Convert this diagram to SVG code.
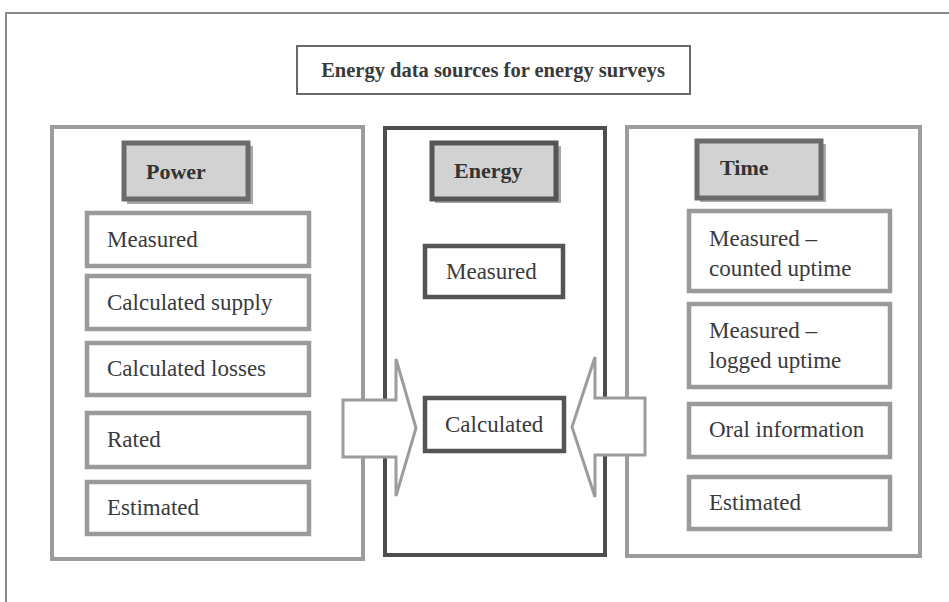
<svg xmlns="http://www.w3.org/2000/svg" width="949" height="602" viewBox="0 0 949 602">
<style>
text{font-family:"Liberation Serif","Times New Roman",serif;fill:#3a3a3a}
.t{font-size:23px}
.h{font-size:22px;font-weight:bold;fill:#333}
.ti{font-size:20.5px;font-weight:bold;fill:#3a3a3a}
.panel{fill:#fff;stroke:#9c9c9c;stroke-width:4}
.cpanel{fill:#fff;stroke:#4e4e4e;stroke-width:4}
.item{fill:#fff;stroke:#9a9a9a;stroke-width:4.5}
.citem{fill:#fff;stroke:#555;stroke-width:4.5}
.hdr{fill:#d2d2d2;stroke:#6a6a6a;stroke-width:5}
.shadow{fill:#a8a8a8}
.arrow{fill:#fff;stroke:#9c9c9c;stroke-width:3;stroke-linejoin:miter}
</style>
<rect width="949" height="602" fill="#fff"/>
<g id="frame">
<path d="M6,602 V13 H949" fill="none" stroke="#8a8a8a" stroke-width="2"/>
</g>
<g id="title">
<rect x="297" y="46" width="393" height="48" fill="#fff" stroke="#6a6a6a" stroke-width="2"/>
<text class="ti" x="493" y="77" text-anchor="middle">Energy data sources for energy surveys</text>
</g>
<g id="power-panel">
<rect class="panel" x="52" y="127" width="311" height="432"/>
<g id="power-header">
<rect class="shadow" x="127" y="146" width="126" height="58"/>
<rect class="hdr" x="124" y="143" width="124" height="56"/>
<text class="h" x="146" y="179">Power</text>
</g>
<g id="p-measured"><rect class="item" x="87" y="213" width="222" height="53"/><text class="t" x="107" y="247">Measured</text></g>
<g id="p-calc-supply"><rect class="item" x="87" y="276" width="222" height="53"/><text class="t" x="107" y="310">Calculated supply</text></g>
<g id="p-calc-losses"><rect class="item" x="87" y="343" width="222" height="52"/><text class="t" x="107" y="376">Calculated losses</text></g>
<g id="p-rated"><rect class="item" x="87" y="413" width="222" height="54"/><text class="t" x="107" y="447">Rated</text></g>
<g id="p-estimated"><rect class="item" x="87" y="482" width="222" height="52"/><text class="t" x="107" y="515">Estimated</text></g>
</g>
<g id="energy-panel">
<rect class="cpanel" x="385" y="128" width="220" height="427"/>
<g id="energy-header">
<rect class="shadow" x="435" y="146" width="126" height="57"/>
<rect class="hdr" x="432" y="143" width="124" height="56" style="stroke:#555"/>
<text class="h" x="454" y="178">Energy</text>
</g>
<g id="e-measured"><rect class="citem" x="425" y="246" width="138" height="51"/><text class="t" x="446" y="279">Measured</text></g>
<g id="e-calculated"><rect class="citem" x="425" y="398" width="139" height="53"/><text class="t" x="445" y="432">Calculated</text></g>
</g>
<g id="time-panel">
<rect class="panel" x="627" y="127" width="293" height="429"/>
<g id="time-header">
<rect class="shadow" x="700" y="144" width="126" height="58"/>
<rect class="hdr" x="697" y="141" width="124" height="57"/>
<text class="h" x="720" y="175">Time</text>
</g>
<g id="t-counted"><rect class="item" x="689" y="211" width="201" height="80"/><text class="t" x="709" y="246">Measured –</text><text class="t" x="709" y="276">counted uptime</text></g>
<g id="t-logged"><rect class="item" x="689" y="304" width="201" height="83"/><text class="t" x="709" y="338">Measured –</text><text class="t" x="709" y="368">logged uptime</text></g>
<g id="t-oral"><rect class="item" x="689" y="404" width="201" height="53"/><text class="t" x="709" y="437">Oral information</text></g>
<g id="t-estimated"><rect class="item" x="689" y="477" width="201" height="52"/><text class="t" x="709" y="510">Estimated</text></g>
</g>
<g id="connectors">
<polygon class="arrow" points="343,400 396,400 396,359 416,428 396,496 396,457 343,457"/>
<polygon class="arrow" points="645,398 595,398 595,357 572,427 595,497 595,455 645,455"/>
</g>
</svg>
